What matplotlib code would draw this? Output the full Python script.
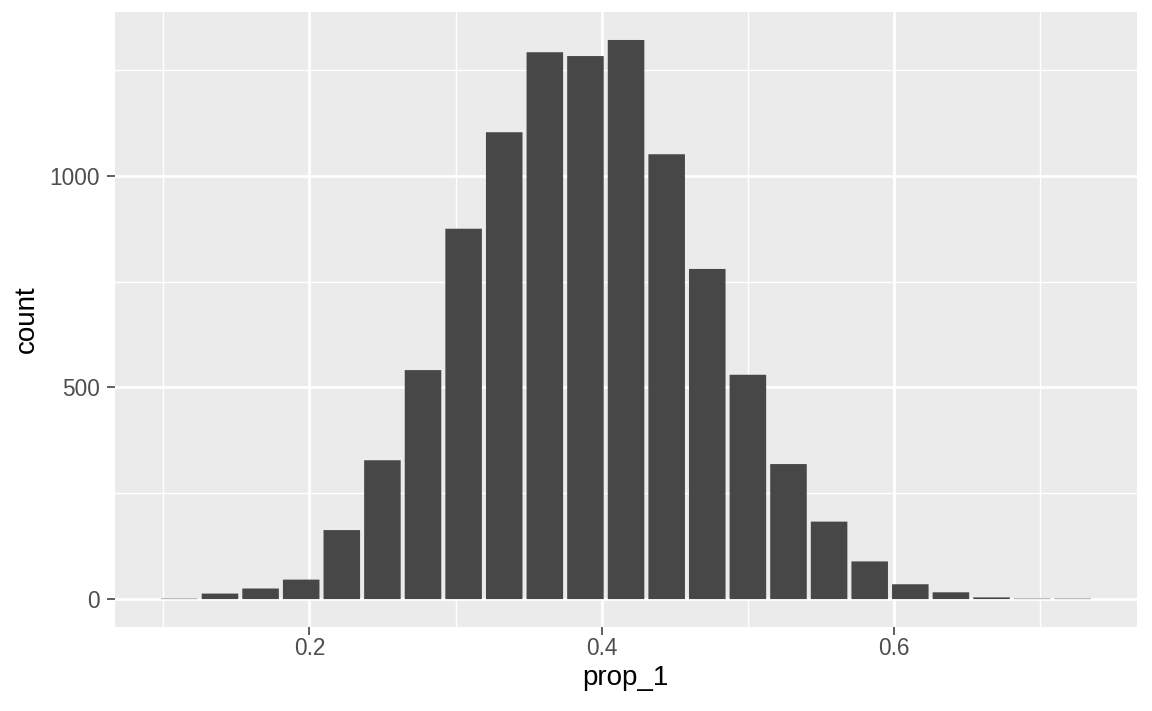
import numpy as np
import matplotlib
matplotlib.use("Agg")
import matplotlib.pyplot as plt
from matplotlib.ticker import FixedLocator

# Bar centres are k/36 (k = 4..26)
bin_k = list(range(4, 27))
counts = [1, 13, 25, 46, 163, 328, 541, 875, 1103, 1292, 1283, 1321,
          1051, 780, 530, 319, 183, 89, 35, 16, 4, 1, 1]
x_major = [0.2, 0.4, 0.6]
x_minor = [0.1, 0.3, 0.5, 0.7]
y_major = [0, 500, 1000]
y_minor = [250, 750, 1250]

PANEL = "#EBEBEB"
BAR = "#474747"
TXT = "#4D4D4D"

plt.rcParams["font.family"] = ["Liberation Sans", "DejaVu Sans"]

centres = np.array(bin_k) / 36.0
width = 0.9 / 36.0   # geom_bar style: 90% of the spacing

fig = plt.figure(figsize=(11.52, 7.11), dpi=100, facecolor="white")
ax = fig.add_axes([0.0996, 0.1181, 0.8874, 0.865])
ax.set_facecolor(PANEL)

bars = ax.bar(centres, counts, width=width, color=BAR, linewidth=0, zorder=3)
# no pixel snapping, so the 1-count bars still leave a faint line
for b in bars:
    b.set_snap(False)

ax.set_xlim(0.0669, 0.7662)
ymax = max(counts)
ax.set_ylim(-0.05 * ymax, ymax * 1.05)

ax.xaxis.set_major_locator(FixedLocator(x_major))
ax.xaxis.set_minor_locator(FixedLocator(x_minor))
ax.yaxis.set_major_locator(FixedLocator(y_major))
ax.yaxis.set_minor_locator(FixedLocator(y_minor))
ax.set_xticklabels([f"{v:.1f}" for v in x_major])
ax.set_yticklabels([str(v) for v in y_major])

ax.grid(which="major", color="white", lw=2.0, zorder=1)
ax.grid(which="minor", color="white", lw=1.0, zorder=1)
ax.set_axisbelow(True)

for s in ax.spines.values():
    s.set_visible(False)

ax.tick_params(which="major", length=5.5, width=1.1, color="#333333",
               labelcolor=TXT, labelsize=16.3)
ax.tick_params(axis="y", which="major", pad=5)
ax.tick_params(axis="x", which="major", pad=1.5)
ax.tick_params(which="minor", length=0)

ax.set_xlabel("prop_1", fontsize=20, color="black", labelpad=3.6)
ax.set_ylabel("count", fontsize=20, color="black", labelpad=7)

fig.savefig("out.png", dpi=100, facecolor="white")
